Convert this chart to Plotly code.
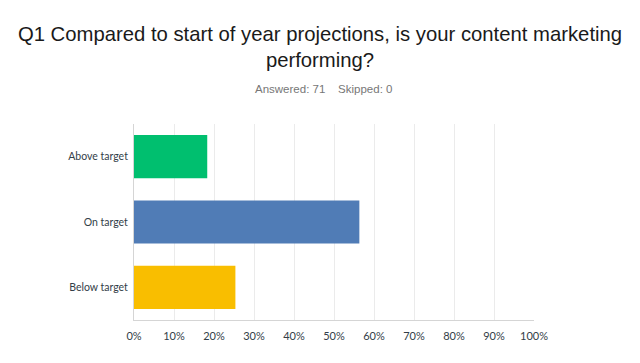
import plotly.graph_objects as go

categories = ["Above target", "On target", "Below target"]
percent = [18.31, 56.34, 25.35]
colors = ["#00BF6F", "#507CB6", "#F9BE00"]
tick_vals = [0, 10, 20, 30, 40, 50, 60, 70, 80, 90, 100]
tick_text = [f"{v}%" for v in tick_vals]

fig = go.Figure(go.Bar(
    y=categories, x=percent, orientation="h",
    marker=dict(color=colors, line=dict(width=0)),
    width=0.66,
))

fig.update_layout(
    width=640, height=363,
    margin=dict(l=126, r=114, t=116, b=51),
    paper_bgcolor="white", plot_bgcolor="white",
    showlegend=False,
    title=dict(
        text="Q1 Compared to start of year projections, is your content marketing<br>performing?",
        font=dict(family="Liberation Sans, Arial", size=20.3, color="#1a1a1a"),
        x=(320 - 8) / 640, xanchor="center", xref="container",
        y=1 - 33 / 363, yanchor="top", yref="container",
    ),
    annotations=[dict(
        text="Answered: 71&nbsp;&nbsp;&nbsp;&nbsp;Skipped: 0",
        xref="paper", yref="paper", x=(323 - 134) / 400, y=(320 - 89) / 196,
        xanchor="center", yanchor="middle", showarrow=False,
        font=dict(family="Liberation Sans, Arial", size=11.5, color="#777777"),
    )],
    xaxis=dict(
        range=[0, 100], tickvals=tick_vals, ticktext=tick_text,
        showgrid=True, gridcolor="#EBEBEB", gridwidth=1,
        zeroline=False, showline=True, linecolor="#D5D5D5", linewidth=1,
        ticks="", ticklabelstandoff=6,
        tickfont=dict(family="Lato, Open Sans", size=11, color="#333E48"),
        fixedrange=True,
    ),
    yaxis=dict(
        categoryorder="array", categoryarray=categories[::-1],
        range=[-0.5, 2.5],
        showgrid=False, zeroline=False, showline=True, linecolor="#D5D5D5", linewidth=1,
        ticks="", ticklabelstandoff=3,
        tickfont=dict(family="Lato, Open Sans", size=10.5, color="#333E48"),
    ),
)

fig.write_html("out.html")
